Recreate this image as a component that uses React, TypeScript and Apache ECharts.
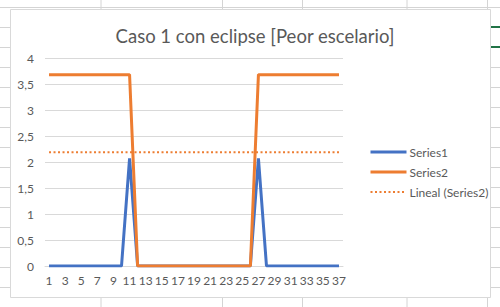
import React, { useEffect, useRef } from "react";
import * as echarts from "echarts";

const categories: string[] = Array.from({ length: 37 }, (_, i) => String(i + 1));
const series1: number[] = [
  0, 0, 0, 0, 0, 0, 0, 0, 0, 0, 2.07, 0, 0, 0, 0, 0, 0, 0, 0, 0, 0, 0, 0, 0, 0, 0, 2.07, 0, 0, 0, 0, 0, 0, 0, 0, 0, 0,
];
const series2: number[] = [
  3.68, 3.68, 3.68, 3.68, 3.68, 3.68, 3.68, 3.68, 3.68, 3.68, 3.68, 0, 0, 0, 0, 0, 0, 0, 0, 0, 0, 0, 0, 0, 0, 0, 3.68,
  3.68, 3.68, 3.68, 3.68, 3.68, 3.68, 3.68, 3.68, 3.68, 3.68,
];
const titleText = "Caso 1 con eclipse [Peor escelario]";
const seriesNames = ["Series1", "Series2", "Lineal (Series2)"];

// Linear trendline (least squares) of Series2, as Excel does
function linearTrend(values: number[]): number[] {
  const n = values.length;
  const xs = values.map((_, i) => i + 1);
  const mx = xs.reduce((a, b) => a + b, 0) / n;
  const my = values.reduce((a, b) => a + b, 0) / n;
  let num = 0;
  let den = 0;
  for (let i = 0; i < n; i++) {
    num += (xs[i] - mx) * (values[i] - my);
    den += (xs[i] - mx) * (xs[i] - mx);
  }
  const slope = num / den;
  const intercept = my - slope * mx;
  return xs.map((x) => intercept + slope * x);
}

const FONT = "Lato, 'Liberation Sans', sans-serif";
const TXT = "#595959";
const SHEET = "#d4d4d4";

export default function App() {
  const ref = useRef<HTMLDivElement>(null);
  useEffect(() => {
    if (!ref.current) return;
    const chart = echarts.init(ref.current, undefined, { renderer: "svg" });
    const trend = linearTrend(series2);

    const sheetLines: any[] = [];
    for (let y = 27; y <= 307; y += 20) {
      sheetLines.push({ type: "line", shape: { x1: 0, y1: y + 0.5, x2: 10, y2: y + 0.5 }, style: { stroke: SHEET, lineWidth: 1 }, silent: true });
      sheetLines.push({ type: "line", shape: { x1: 491, y1: y + 0.5, x2: 500, y2: y + 0.5 }, style: { stroke: SHEET, lineWidth: 1 }, silent: true });
    }
    sheetLines.push({ type: "line", shape: { x1: 0, y1: 7.5, x2: 500, y2: 7.5 }, style: { stroke: SHEET, lineWidth: 1 }, silent: true });
    [27, 47].forEach((y) => {
      sheetLines.push({ type: "line", shape: { x1: 491, y1: y, x2: 500, y2: y }, style: { stroke: "#217346", lineWidth: 2 }, silent: true });
    });
    [101, 222.5, 302.5, 407, 487.5].forEach((x) => {
      sheetLines.push({ type: "line", shape: { x1: x, y1: 0, x2: x, y2: 9 }, style: { stroke: SHEET, lineWidth: 1 }, silent: true });
      sheetLines.push({ type: "line", shape: { x1: x, y1: 297, x2: x, y2: 307 }, style: { stroke: SHEET, lineWidth: 1 }, silent: true });
    });
    sheetLines.push({
      type: "rect",
      shape: { x: 10.5, y: 9.5, width: 480, height: 288 },
      style: { fill: "none", stroke: "#d9d9d9", lineWidth: 1 },
      silent: true,
    });

    chart.setOption({
      animation: false,
      backgroundColor: "#ffffff",
      title: {
        text: titleText,
        left: 250,
        textAlign: "center",
        top: 21,
        textStyle: { fontFamily: FONT, fontSize: 18.5, fontWeight: "normal", color: TXT },
      },
      graphic: sheetLines,
      legend: {
        orient: "vertical",
        left: 364,
        top: 141,
        itemWidth: 36,
        itemHeight: 14,
        itemGap: 8,
        data: [
          { name: seriesNames[0], lineStyle: { width: 3 } },
          { name: seriesNames[1], lineStyle: { width: 3 } },
          { name: seriesNames[2], lineStyle: { width: 2 } },
        ],
        itemStyle: { opacity: 0 },
        textStyle: { fontFamily: FONT, fontSize: 12, color: TXT, padding: [0, 0, 0, -2] },
      },
      grid: { left: 45, top: 58, width: 298, height: 208, containLabel: false },
      xAxis: {
        type: "category",
        data: categories,
        boundaryGap: true,
        axisLine: { show: true, lineStyle: { color: "#d9d9d9", width: 1 } },
        axisTick: { show: false },
        axisLabel: { interval: 1, color: TXT, fontFamily: FONT, fontSize: 12, margin: 8 },
      },
      yAxis: {
        type: "value",
        min: 0,
        max: 4,
        interval: 0.5,
        axisLine: { show: false },
        axisTick: { show: false },
        axisLabel: {
          color: TXT,
          fontFamily: FONT,
          fontSize: 12,
          margin: 11,
          formatter: (v: number) => String(v).replace(".", ","),
        },
        splitLine: { lineStyle: { color: "#d9d9d9", width: 1 } },
      },
      series: [
        {
          name: seriesNames[0],
          type: "line",
          data: series1,
          symbol: "none",
          lineStyle: { color: "#4472C4", width: 3 },
          itemStyle: { color: "#4472C4" },
          z: 3,
        },
        {
          name: seriesNames[1],
          type: "line",
          data: series2,
          symbol: "none",
          lineStyle: { color: "#ED7D31", width: 3 },
          itemStyle: { color: "#ED7D31" },
          z: 4,
        },
        {
          name: seriesNames[2],
          type: "line",
          data: trend,
          symbol: "none",
          lineStyle: { color: "#ED7D31", width: 2, type: [2, 2.5] },
          itemStyle: { color: "#ED7D31" },
          z: 2,
        },
      ],
    });
    return () => chart.dispose();
  }, []);
  return <div ref={ref} style={{ position: "fixed", left: 0, top: 0, width: 500, height: 307 }} />;
}
